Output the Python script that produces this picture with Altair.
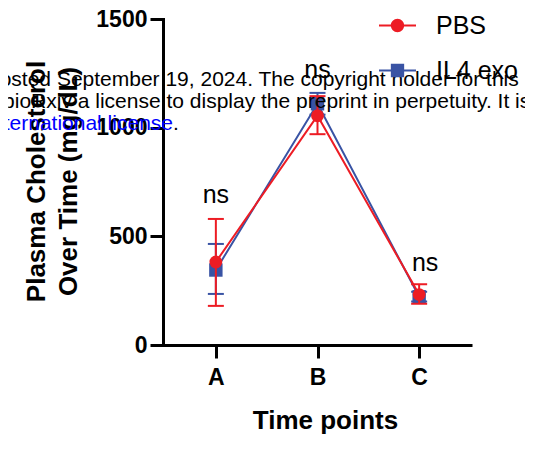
import altair as alt
import pandas as pd

# ---- data ----
time_points = ["A", "B", "C"]
series_names = ["PBS", "IL4 exo"]
series_colors = ["#ED1C24", "#3953A4"]

pbs_mean = [382, 1055, 232]
pbs_low = [180, 970, 190]
pbs_high = [580, 1145, 280]

il4_mean = [345, 1110, 222]
il4_low = [235, 1060, 200]
il4_high = [465, 1160, 245]

ns_text = ["ns", "ns", "ns"]
ns_height = [690, 1265, 377]

y_ticks = [0, 500, 1000, 1500]
y_title = ["Plasma Cholesterol", "Over Time (mg/dL)"]
x_title = "Time points"

watermark_lines = [
    "posted September 19, 2024. The copyright holder for this preprint",
    "granted bioRxiv a license to display the preprint in perpetuity. It is made",
]
watermark_link = "aCC-BY 4.0 International license"
watermark_end = "."

FONT = "Liberation Sans"

rows = []
for i, t in enumerate(time_points):
    rows.append({"time": t, "series": "PBS", "mean": pbs_mean[i], "low": pbs_low[i], "high": pbs_high[i]})
for i, t in enumerate(time_points):
    rows.append({"time": t, "series": "IL4 exo", "mean": il4_mean[i], "low": il4_low[i], "high": il4_high[i]})
df = pd.DataFrame(rows)

ns_df = pd.DataFrame({"time": time_points, "label": ns_text, "h": ns_height})

x_enc = alt.X(
    "time:N",
    scale=alt.Scale(type="point", domain=time_points, padding=0.52),
    axis=alt.Axis(
        title=x_title, labelAngle=0, labelFont=FONT, labelFontSize=23, labelFontWeight="bold",
        labelColor="black", labelPadding=8, tickSize=13, tickWidth=3, tickColor="black",
        domainWidth=3, domainColor="black", titleFont=FONT, titleFontSize=26,
        titleFontWeight="bold", titleColor="black", titleX=162, titleY=83,
        titleBaseline="alphabetic", grid=False,
    ),
)
y_scale = alt.Scale(domain=[0, 1500], nice=False)
y_axis = alt.Axis(
    values=y_ticks, format="d", title=y_title, labelFont=FONT, labelFontSize=23, labelFontWeight="bold",
    labelColor="black", labelPadding=3, tickSize=13, tickWidth=3, tickColor="black",
    domainWidth=3, domainColor="black", domainCap="square", titleFont=FONT, titleFontSize=26,
    titleFontWeight="bold", titleColor="black", titleAngle=270, titleX=-119, titleY=162,
    titleAlign="center", titleBaseline="alphabetic", titleLineHeight=32, grid=False,
)

base = alt.Chart(df)


def series_layers(name, color, shape, size):
    b = base.transform_filter(alt.datum.series == name)
    line = b.mark_line(color=color, strokeWidth=2).encode(
        x=x_enc, y=alt.Y("mean:Q", scale=y_scale, axis=y_axis)
    )
    rule = b.mark_rule(color=color, strokeWidth=2).encode(
        x=x_enc, y=alt.Y("low:Q", scale=y_scale), y2="high:Q"
    )
    cap_lo = b.mark_tick(color=color, thickness=2, size=16, opacity=1).encode(
        x=x_enc, y=alt.Y("low:Q", scale=y_scale)
    )
    cap_hi = b.mark_tick(color=color, thickness=2, size=16, opacity=1).encode(
        x=x_enc, y=alt.Y("high:Q", scale=y_scale)
    )
    pts = b.mark_point(filled=True, shape=shape, size=size, color=color, opacity=1).encode(
        x=x_enc, y=alt.Y("mean:Q", scale=y_scale)
    )
    return [line, rule, cap_lo, cap_hi, pts]


blue_layers = series_layers("IL4 exo", series_colors[1], "square", 180)
red_layers = series_layers("PBS", series_colors[0], "circle", 165)

legend_paths = [
    "M-1,-0.055H1V0.055H-1Z M0.36,0A0.36,0.36 0 1,1 -0.36,0A0.36,0.36 0 1,1 0.36,0Z",
    "M-1,-0.055H1V0.055H-1Z M-0.36,-0.36H0.36V0.36H-0.36Z",
]
leg = alt.Legend(
    orient="none", legendX=216, legendY=-12, title=None, labelFont=FONT, labelFontSize=25,
    labelColor="black", symbolSize=1369, symbolOpacity=1, symbolStrokeWidth=0,
    labelOffset=20, rowPadding=13, padding=0,
)
legend_layer = base.mark_point(filled=True, opacity=0).encode(
    x=x_enc,
    y=alt.Y("mean:Q", scale=y_scale),
    color=alt.Color("series:N", scale=alt.Scale(domain=series_names, range=series_colors), legend=leg),
    shape=alt.Shape("series:N", scale=alt.Scale(domain=series_names, range=legend_paths), legend=leg),
)

ns_layer_ab = alt.Chart(ns_df).transform_filter(alt.datum.time != "C").mark_text(
    font=FONT, fontSize=25, color="black", baseline="middle"
).encode(x=x_enc, y=alt.Y("h:Q", scale=y_scale), text="label:N")
ns_layer_c = alt.Chart(ns_df).transform_filter(alt.datum.time == "C").mark_text(
    font=FONT, fontSize=25, color="black", baseline="middle", dx=6
).encode(x=x_enc, y=alt.Y("h:Q", scale=y_scale), text="label:N")

wm1 = alt.Chart(pd.DataFrame({"t": [watermark_lines[0]]})).mark_text(
    font=FONT, fontSize=21, color="black", align="left", baseline="alphabetic"
).encode(x=alt.value(-175), y=alt.value(67), text="t:N")
wm2 = alt.Chart(pd.DataFrame({"t": [watermark_lines[1]]})).mark_text(
    font=FONT, fontSize=21, color="black", align="left", baseline="alphabetic"
).encode(x=alt.value(-237), y=alt.value(89), text="t:N")
wm3 = alt.Chart(pd.DataFrame({"t": [watermark_link]})).mark_text(
    font=FONT, fontSize=21, color="#0000FF", align="right", baseline="alphabetic"
).encode(x=alt.value(10), y=alt.value(111), text="t:N")
wm4 = alt.Chart(pd.DataFrame({"t": [watermark_end]})).mark_text(
    font=FONT, fontSize=21, color="black", align="left", baseline="alphabetic"
).encode(x=alt.value(10), y=alt.value(111), text="t:N")

chart = alt.layer(
    *blue_layers, *red_layers, legend_layer, ns_layer_ab, ns_layer_c, wm1, wm2, wm3, wm4
).properties(
    width=309, height=326,
    autosize=alt.AutoSizeParams(type="none"),
    padding={"left": 155, "top": 11, "right": 53, "bottom": 90},
).configure_view(stroke=None)

chart.save("out.html", embed_options={"renderer": "svg", "actions": False})
